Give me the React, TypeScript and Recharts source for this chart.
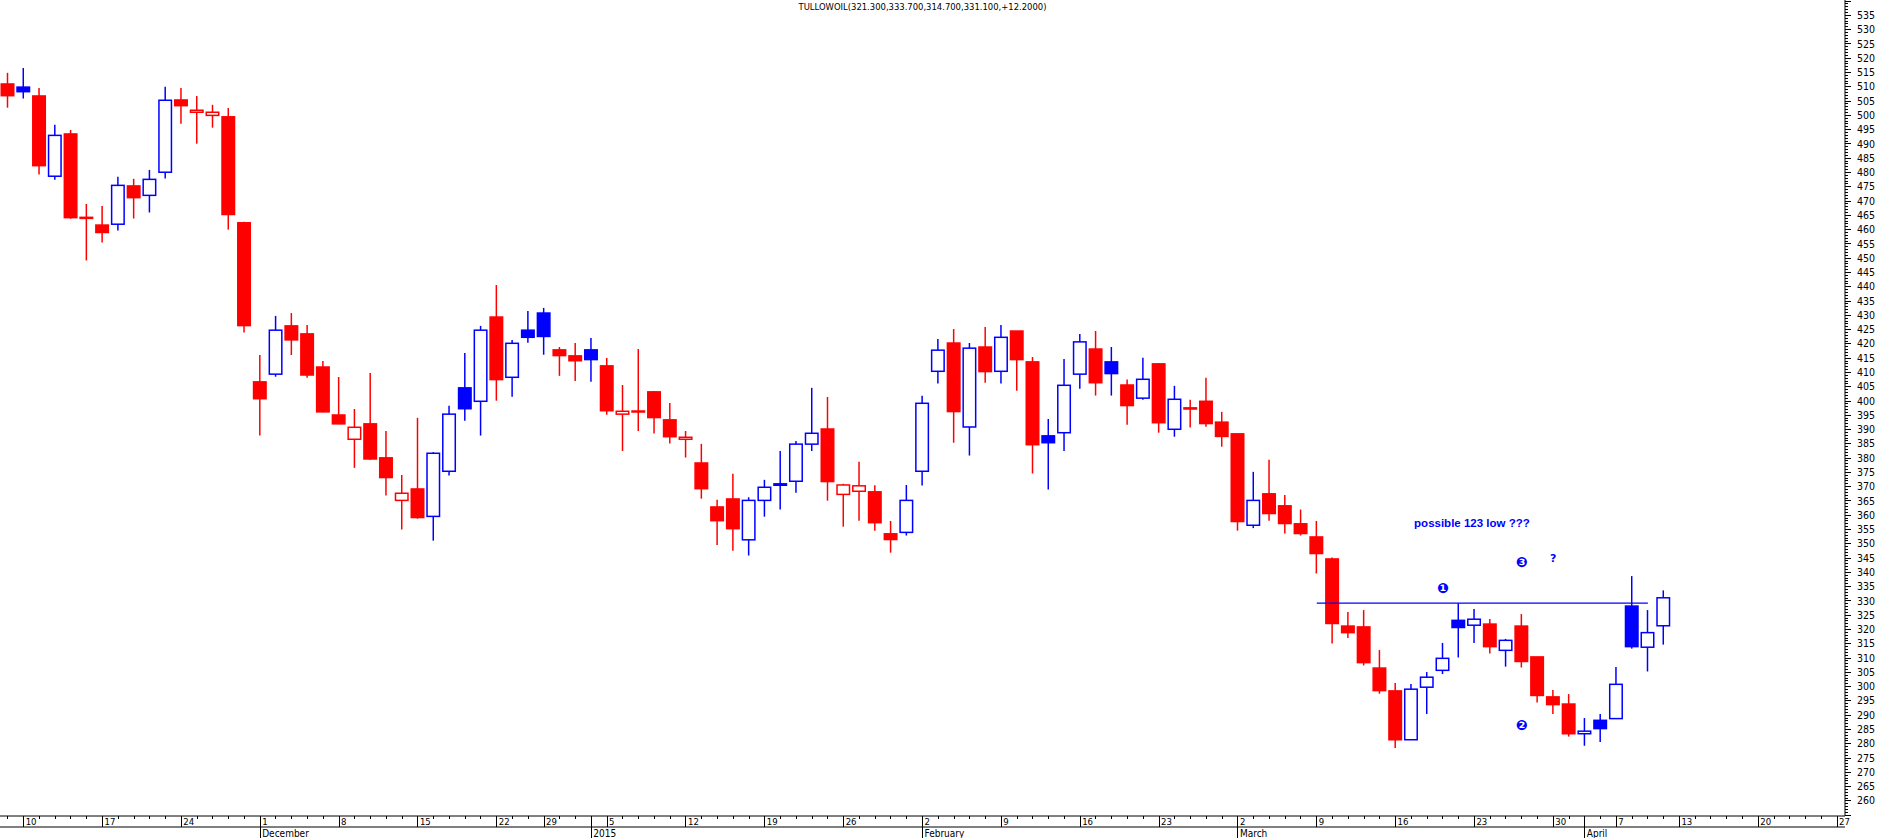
import React from 'react';
import { ComposedChart, Bar, XAxis, YAxis, ReferenceLine, ReferenceDot } from 'recharts';

// trading sessions, then the empty future days the axis still shows
const sessions = [
  '2014-11-07', '2014-11-10', '2014-11-11', '2014-11-12', '2014-11-13', '2014-11-14', '2014-11-17', '2014-11-18',
  '2014-11-19', '2014-11-20', '2014-11-21', '2014-11-24', '2014-11-25', '2014-11-26', '2014-11-27', '2014-11-28',
  '2014-12-01', '2014-12-02', '2014-12-03', '2014-12-04', '2014-12-05', '2014-12-08', '2014-12-09', '2014-12-10',
  '2014-12-11', '2014-12-12', '2014-12-15', '2014-12-16', '2014-12-17', '2014-12-18', '2014-12-19', '2014-12-22',
  '2014-12-23', '2014-12-24', '2014-12-29', '2014-12-30', '2014-12-31', '2015-01-02', '2015-01-05', '2015-01-06',
  '2015-01-07', '2015-01-08', '2015-01-09', '2015-01-12', '2015-01-13', '2015-01-14', '2015-01-15', '2015-01-16',
  '2015-01-19', '2015-01-20', '2015-01-21', '2015-01-22', '2015-01-23', '2015-01-26', '2015-01-27', '2015-01-28',
  '2015-01-29', '2015-01-30', '2015-02-02', '2015-02-03', '2015-02-04', '2015-02-05', '2015-02-06', '2015-02-09',
  '2015-02-10', '2015-02-11', '2015-02-12', '2015-02-13', '2015-02-16', '2015-02-17', '2015-02-18', '2015-02-19',
  '2015-02-20', '2015-02-23', '2015-02-24', '2015-02-25', '2015-02-26', '2015-02-27', '2015-03-02', '2015-03-03',
  '2015-03-04', '2015-03-05', '2015-03-06', '2015-03-09', '2015-03-10', '2015-03-11', '2015-03-12', '2015-03-13',
  '2015-03-16', '2015-03-17', '2015-03-18', '2015-03-19', '2015-03-20', '2015-03-23', '2015-03-24', '2015-03-25',
  '2015-03-26', '2015-03-27', '2015-03-30', '2015-03-31', '2015-04-01', '2015-04-02', '2015-04-07', '2015-04-08',
  '2015-04-09', '2015-04-10',
  '2015-04-13', '2015-04-14', '2015-04-15', '2015-04-16', '2015-04-17', '2015-04-20', '2015-04-21', '2015-04-22',
  '2015-04-23', '2015-04-24', '2015-04-27',
];

const opens = [
  511.0, 509.9, 506.8, 478.7, 493.5, 464.3, 461.6, 461.9, 475.3, 472.0, 480.1, 505.4, 501.1, 500.0, 499.5, 462.4,
  406.7, 409.4, 426.3, 423.5, 411.9, 395.1, 386.6, 392.0, 380.1, 365.2, 369.2, 359.6, 375.4, 404.6, 399.9, 429.4,
  408.3, 424.8, 430.8, 417.9, 415.8, 417.9, 412.3, 395.4, 396.5, 403.2, 393.4, 386.6, 378.3, 362.9, 365.7, 351.4,
  365.2, 371.0, 371.9, 384.9, 390.2, 367.3, 368.4, 368.2, 353.5, 354.0, 375.4, 410.4, 420.3, 390.9, 418.9, 410.4,
  424.5, 413.7, 387.8, 388.9, 409.4, 418.2, 413.7, 405.6, 401.0, 413.0, 390.1, 397.6, 399.9, 392.6, 388.5, 356.5,
  367.5, 363.3, 357.0, 352.4, 344.7, 321.2, 320.9, 306.5, 298.5, 281.4, 299.8, 305.7, 323.2, 321.5, 321.9, 312.7,
  321.2, 310.4, 296.4, 293.9, 283.5, 288.2, 288.8, 328.2, 313.8, 321.3,
];
const highs = [
  514.9, 516.6, 509.6, 496.7, 494.9, 469.0, 468.3, 478.5, 477.8, 480.9, 510.0, 509.6, 506.8, 503.7, 502.6, 462.8,
  416.1, 429.8, 430.8, 426.6, 414.0, 408.4, 397.2, 409.8, 389.5, 374.1, 394.1, 382.1, 398.3, 416.8, 426.3, 440.6,
  421.4, 431.5, 432.6, 418.9, 420.3, 422.1, 415.1, 405.6, 418.2, 403.5, 399.3, 389.5, 385.0, 365.4, 374.5, 366.3,
  372.4, 382.5, 386.0, 404.6, 401.4, 371.0, 378.7, 370.5, 358.0, 370.6, 401.8, 421.7, 425.2, 420.3, 425.9, 426.6,
  424.5, 415.4, 393.7, 414.7, 423.5, 424.5, 418.9, 407.5, 415.1, 413.3, 405.3, 400.4, 408.1, 396.2, 388.5, 375.2,
  379.4, 367.1, 362.0, 358.0, 345.2, 326.1, 326.8, 312.8, 301.3, 300.9, 305.1, 315.3, 329.2, 327.2, 323.7, 316.7,
  325.4, 310.4, 298.8, 297.4, 289.0, 290.4, 306.9, 338.7, 326.8, 333.7,
];
const lows = [
  502.7, 505.9, 479.3, 477.5, 463.8, 449.2, 455.5, 459.7, 463.9, 466.0, 477.9, 497.1, 490.1, 495.7, 460.0, 424.0,
  387.9, 408.5, 416.1, 408.1, 396.1, 391.9, 376.6, 379.4, 366.9, 355.0, 358.8, 351.1, 373.9, 393.1, 387.9, 400.1,
  401.5, 420.4, 416.2, 408.8, 407.0, 406.7, 395.2, 382.5, 389.5, 388.6, 385.1, 380.2, 365.8, 349.6, 347.6, 345.9,
  359.5, 362.0, 367.9, 382.5, 365.1, 356.0, 358.1, 354.6, 346.9, 352.9, 370.4, 406.1, 385.4, 380.9, 406.4, 406.1,
  403.6, 374.6, 369.0, 382.5, 404.3, 401.9, 401.9, 391.7, 400.4, 388.9, 387.5, 390.7, 391.0, 384.0, 354.6, 355.5,
  358.1, 353.6, 352.9, 339.6, 315.1, 317.0, 307.4, 297.5, 278.5, 281.3, 290.4, 304.4, 310.2, 315.3, 311.6, 307.0,
  306.7, 294.4, 290.4, 282.5, 279.3, 280.6, 288.8, 313.3, 305.3, 314.7,
];
const closes = [
  506.9, 508.3, 482.4, 493.0, 464.2, 464.0, 459.0, 475.5, 471.2, 477.6, 505.3, 503.4, 501.8, 501.1, 465.3, 426.4,
  400.8, 424.8, 421.4, 409.1, 396.2, 392.0, 390.8, 379.7, 373.2, 367.7, 359.2, 381.7, 395.4, 397.3, 424.8, 407.5,
  420.2, 422.3, 422.6, 415.9, 414.1, 414.5, 396.6, 396.4, 396.2, 394.2, 387.5, 387.3, 369.3, 358.1, 355.3, 365.2,
  369.8, 370.5, 384.9, 388.7, 371.8, 370.6, 370.3, 357.4, 351.5, 365.2, 399.2, 417.8, 396.3, 418.5, 410.3, 422.3,
  414.5, 384.7, 385.4, 405.5, 420.7, 406.4, 409.6, 398.4, 407.6, 392.4, 400.6, 397.2, 392.1, 387.6, 357.8, 365.2,
  360.6, 357.1, 353.6, 346.6, 322.1, 318.9, 308.4, 298.6, 281.4, 299.1, 303.3, 309.9, 320.7, 323.6, 314.0, 316.2,
  308.8, 296.9, 293.7, 283.5, 284.4, 285.3, 300.8, 314.0, 318.9, 331.1,
];

const weekTickDates = [
  '2014-11-10', '2014-11-17', '2014-11-24', '2014-12-01', '2014-12-08', '2014-12-15', '2014-12-22', '2014-12-29',
  '2015-01-05', '2015-01-12', '2015-01-19', '2015-01-26', '2015-02-02', '2015-02-09', '2015-02-16', '2015-02-23',
  '2015-03-02', '2015-03-09', '2015-03-16', '2015-03-23', '2015-03-30', '2015-04-07', '2015-04-13', '2015-04-20',
  '2015-04-27',
];
const weekTickLabels = [
  '10', '17', '24', '1', '8', '15', '22', '29', '5', '12', '19', '26', '2', '9', '16', '23',
  '2', '9', '16', '23', '30', '7', '13', '20', '27',
];
const monthTickDates = ['2014-12-01', '2015-01-02', '2015-02-02', '2015-03-02', '2015-04-01'];
const monthTickLabels = ['December', '2015', 'February', 'March', 'April'];

const title = 'TULLOWOIL(321.300,333.700,314.700,331.100,+12.2000)';

// hand drawn annotations
const trendLevel = 329.2;
const trendFrom = '2015-03-09';
const trendTo = '2015-04-09';
const noteText = 'possible 123 low ???';
const noteDate = '2015-03-23';
const notePrice = 356.0;
const markerDates = ['2015-03-19', '2015-03-26', '2015-03-26', '2015-03-30'];
const markerPrices = [334.6, 286.7, 343.6, 344.7];
const markerTexts = ['\u2776', '\u2777', '\u2778', '?'];

const RED = '#ff0000';
const BLUE = '#0000ff';
const FONT = "'Liberation Sans Narrow', 'DejaVu Sans Condensed', 'Arial Narrow', sans-serif";

const chartData = sessions.map((date, i) => {
  if (i >= closes.length) return { date, range: null };
  const prev = i > 0 ? closes[i - 1] : opens[0];
  return {
    date,
    open: opens[i],
    high: highs[i],
    low: lows[i],
    close: closes[i],
    range: [lows[i], highs[i]],
    up: closes[i] >= prev,
    hollow: closes[i] > opens[i],
  };
});

const priceTicks: number[] = [];
for (let v = 255; v <= 540; v++) priceTicks.push(v);

const Candle = (props: any) => {
  const { x, y, width, height, payload } = props;
  if (!payload || payload.open == null || !Number.isFinite(y)) return null;
  const { open, high, low, close, up, hollow } = payload;
  const py = (p: number) => y + ((high - p) / (high - low)) * height;
  const cx = x + width / 2;
  const color = up ? BLUE : RED;
  const top = py(Math.max(open, close));
  const bot = py(Math.min(open, close));
  const bw = 12.5;
  return (
    <g>
      <line x1={cx} x2={cx} y1={y} y2={y + height} stroke={color} strokeWidth={1.5} />
      <rect
        x={cx - bw / 2}
        y={top}
        width={bw}
        height={Math.max(bot - top, 1)}
        fill={hollow ? '#ffffff' : color}
        stroke={color}
        strokeWidth={1.5}
      />
    </g>
  );
};

const PriceTick = (props: any) => {
  const { x, y, payload } = props;
  const v = payload.value;
  const major = v % 5 === 0;
  return (
    <g>
      <line x1={x} x2={x + (major ? 5.5 : 2.7)} y1={y} y2={y} stroke="#000" strokeWidth={1} shapeRendering="crispEdges" />
      {major && v >= 260 && v <= 535 && (
        <text x={x + 12} y={y + 3.6} fontSize={10.5} fontFamily={FONT} fill="#000">
          {v}
        </text>
      )}
    </g>
  );
};

const DayTick = (props: any) => {
  const { x, y, payload } = props;
  const wi = weekTickDates.indexOf(payload.value);
  return (
    <g>
      <line x1={x} x2={x} y1={y} y2={y + (wi >= 0 ? 11 : 2.7)} stroke="#000" strokeWidth={1} shapeRendering="crispEdges" />
      {wi >= 0 && (
        <text x={x + 2} y={y + 9} fontSize={9.5} fontFamily={FONT} fill="#000">
          {weekTickLabels[wi]}
        </text>
      )}
    </g>
  );
};

const MonthTick = (props: any) => {
  const { x, y, payload } = props;
  const mi = monthTickDates.indexOf(payload.value);
  if (mi < 0) return <g />;
  return (
    <g>
      <line x1={x} x2={x} y1={y - 11} y2={y + 11} stroke="#000" strokeWidth={1} shapeRendering="crispEdges" />
      <text x={x + 2} y={y + 10.3} fontSize={10} fontFamily={FONT} fill="#000">
        {monthTickLabels[mi]}
      </text>
    </g>
  );
};

export default function App() {
  return (
    <div style={{ position: 'absolute', left: 0, top: 0, width: 1881, height: 838, background: '#fff', overflow: 'hidden' }}>
      <div
        style={{
          position: 'absolute',
          left: 0,
          top: 1,
          width: 1845,
          textAlign: 'center',
          fontFamily: FONT,
          fontSize: 9.4,
          lineHeight: '11px',
          color: '#000',
        }}
      >
        {title}
      </div>
      <ComposedChart width={1881} height={838} data={chartData} margin={{ top: 0, right: 0, bottom: 0, left: 0 }}>
        <XAxis
          xAxisId="d"
          dataKey="date"
          height={11}
          interval={0}
          tickSize={0}
          tickMargin={0}
          tickLine={false}
          axisLine={{ stroke: '#000', strokeWidth: 1 }}
          tick={<DayTick />}
        />
        <XAxis
          xAxisId="m"
          dataKey="date"
          height={11}
          interval={0}
          tickSize={0}
          tickMargin={0}
          tickLine={false}
          axisLine={{ stroke: '#000', strokeWidth: 1 }}
          tick={<MonthTick />}
        />
        <YAxis
          orientation="right"
          width={36}
          type="number"
          domain={[254.7, 540.4]}
          allowDataOverflow
          ticks={priceTicks}
          interval={0}
          tickSize={0}
          tickMargin={0}
          tickLine={false}
          axisLine={{ stroke: '#000', strokeWidth: 1 }}
          tick={<PriceTick />}
        />
        <Bar xAxisId="d" dataKey="range" barSize={13} shape={<Candle />} isAnimationActive={false} />
        <ReferenceLine
          xAxisId="d"
          segment={[{ x: trendFrom, y: trendLevel }, { x: trendTo, y: trendLevel }]}
          stroke={BLUE}
          strokeWidth={1.2}
        />
        <ReferenceDot
          xAxisId="d"
          x={noteDate}
          y={notePrice}
          r={0}
          shape={(p: any) => (
            <text x={p.cx - 2.5} y={p.cy} textAnchor="middle" fontSize={11.5} fontWeight="bold" fontFamily="'Liberation Sans', Arial, sans-serif" fill={BLUE}>
              {noteText}
            </text>
          )}
        />
        {markerDates.map((d, i) => (
          <ReferenceDot
            key={`mk-${i}`}
            xAxisId="d"
            x={d}
            y={markerPrices[i]}
            r={0}
            shape={(p: any) => (
              <text
                x={p.cx}
                y={p.cy}
                textAnchor="middle"
                dominantBaseline="central"
                fontSize={markerTexts[i] === '?' ? 11 : 14}
                fontWeight="bold"
                fontFamily="'DejaVu Sans', sans-serif"
                fill={BLUE}
              >
                {markerTexts[i]}
              </text>
            )}
          />
        ))}
      </ComposedChart>
    </div>
  );
}
